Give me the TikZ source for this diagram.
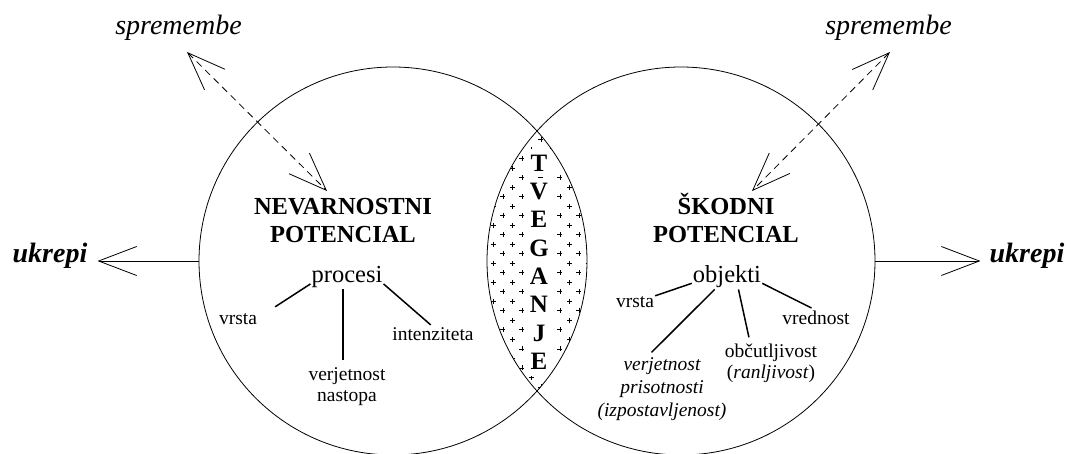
\documentclass[tikz,border=0pt]{standalone}
\usepackage{fontspec}
\setmainfont{Liberation Serif}
\usetikzlibrary{arrows.meta}
\def\vel{\fontsize{24.5}{28}\selectfont}
\def\mal{\fontsize{19.5}{21}\selectfont}
\def\ogr{\fontsize{28}{30}\selectfont}

\begin{document}
\begin{tikzpicture}[x=1pt,y=-1pt,>={Straight Barb[length=38pt,width=29pt]},
    krog/.style={draw,circle,minimum size=388pt,inner sep=0pt,line width=0.8pt},
    naslov/.style={font=\vel\bfseries,align=center,inner sep=1pt,anchor=base},
    glavni/.style={font=\vel,inner sep=1pt,anchor=base},
    mali/.style={font=\mal,align=center,inner sep=1pt,anchor=base},
    ogr/.style={font=\ogr\itshape,inner sep=1pt,anchor=base},
    veja/.style={line width=1.5pt},
    puscica/.style={line width=0.8pt},
    plus/.style={line width=0.6pt},
    crka/.style={font=\fontsize{25}{25}\selectfont\bfseries,fill=white,inner sep=0pt,
        minimum width=30pt,minimum height=28.4pt,anchor=base}]
    \useasboundingbox (0,0) rectangle (1071,454);

    \begin{scope}
        \clip (393,261) circle (194pt);
        \clip (681,261) circle (194pt);
        \foreach \i in {-4,...,9}
            \foreach \j in {-7,...,22} {
                \ifodd\numexpr\i+\j\relax\else
                    \pgfmathsetmacro\px{512.3+9.5*\i}
                    \pgfmathsetmacro\py{187.3+9.5*\j}
                    \draw[plus] (\px-2.5,\py) -- (\px+2.5,\py) (\px,\py-2.5) -- (\px,\py+2.5);
                \fi
            }
    \end{scope}
    \foreach \c [count=\k from 0] in {T,V,E,G,A,N,J,E}
        \node[crka] (tv\k) at (539,{171.4+28.3*\k}) {\c};

    \begin{scope}
        \node[krog] (krogL) at (393,261) {};
        \node[naslov] (nevL) at (343,243) {NEVARNOSTNI\\POTENCIAL};
        \node[glavni] (procL) at (347,283) {procesi};
        \node[mali] (vrstaL) at (238,324) {vrsta};
        \node[mali] (intL) at (433,341) {intenziteta};
        \node[mali] (verjL) at (347,401) {verjetnost\\nastopa};
        \draw[veja] (procL.190) -- ([shift={(17,-5)}]vrstaL.north east);
        \draw[veja,shorten >=6pt] ([xshift=-4pt]procL.south) -- ([xshift=-4pt]verjL.north);
        \draw[veja,shorten >=3pt] (procL.-10) -- (intL.north);

        \node[ogr,font=\ogr\bfseries\itshape] (ukrepiL) at (50,263) {ukrepi};
        \draw[puscica,->,shorten >=9pt] (krogL.west) -- (ukrepiL.east |- krogL.west);

        \node[ogr] (sprL) at (178.5,35) {spremembe};
        \coordinate (sprLa) at (187,52);
        \coordinate (sprLb) at (327,191);
        \draw[puscica,<->,dash pattern=on 7pt off 5pt] (sprLa) -- (sprLb);
    \end{scope}

    \begin{scope}
        \node[krog] (krogR) at (681,261) {};
        \node[naslov] (skodR) at (726,243) {ŠKODNI\\POTENCIAL};
        \node[glavni] (objR) at (727,283) {objekti};
        \node[mali] (vrstaR) at (635,308) {vrsta};
        \node[mali] (vredR) at (816,325) {vrednost};
        \node[mali] (obcR) at (771,378) {občutljivost\\(\textit{ranljivost})};
        \node[mali,font=\fontsize{19.5}{23}\selectfont\itshape] (verjR) at (662,416) {verjetnost\\prisotnosti\\(izpostavljenost)};
        \draw[veja] (objR.190) -- (vrstaR.north east);
        \draw[veja,shorten >=5pt] (objR.225) -- ([xshift=-14pt]verjR.north);
        \draw[veja,shorten >=5pt] (objR.-47) -- ([xshift=-21pt]obcR.north);
        \draw[veja,shorten >=5pt] (objR.-10) -- (vredR.north);

        \node[ogr,font=\ogr\bfseries\itshape] (ukrepiR) at (1027,263) {ukrepi};
        \draw[puscica,->,shorten >=8pt] (krogR.east) -- (ukrepiR.west |- krogR.east);

        \node[ogr] (sprR) at (888.5,35) {spremembe};
        \coordinate (sprRa) at (890,52);
        \coordinate (sprRb) at (752,191);
        \draw[puscica,<->,dash pattern=on 7pt off 5pt] (sprRa) -- (sprRb);
    \end{scope}
\end{tikzpicture}
\end{document}
